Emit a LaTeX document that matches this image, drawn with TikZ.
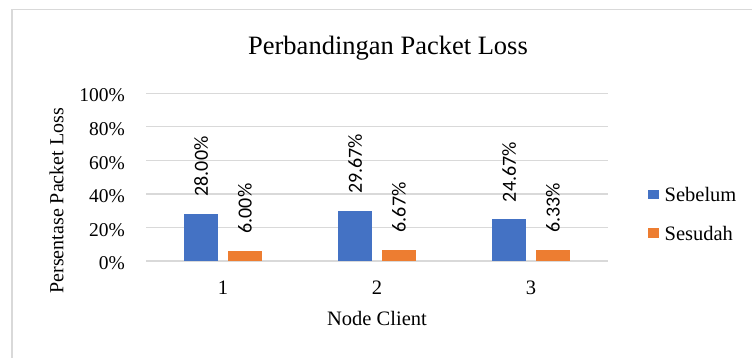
\documentclass[tikz,border=0pt]{standalone}
\usepackage{fontspec}
\setmainfont{Liberation Serif}
\newfontfamily\labelfont{Carlito}
\usepackage{xcolor}
\definecolor{chartBlue}{HTML}{4472C4}
\definecolor{chartOrange}{HTML}{ED7D31}
\definecolor{chartGrid}{HTML}{D9D9D9}
\usepackage{tikz}
\usetikzlibrary{positioning}
\tikzset{
  framerule/.style={draw=chartGrid,line width=1.3pt},
  gridline/.style={draw=chartGrid,line width=1.3pt},
  barblue/.style={rectangle,fill=chartBlue,inner sep=0pt,minimum width=34.3pt,anchor=south},
  barorange/.style={rectangle,fill=chartOrange,inner sep=0pt,minimum width=34.3pt,anchor=south},
  valuelabel/.style={rotate=90,anchor=west,inner sep=0pt,font=\labelfont\fontsize{20}{20}\selectfont},
  ticklabel/.style={anchor=base east,inner sep=0pt,font=\fontsize{19.5}{19.5}\selectfont},
  catlabel/.style={anchor=base,inner sep=0pt,font=\fontsize{20.5}{20.5}\selectfont},
  legendkey/.style={rectangle,inner sep=0pt,minimum width=10.7pt,minimum height=9.6pt},
  legendtext/.style={inner sep=0pt,font=\fontsize{20.5}{20.5}\selectfont},
}

\begin{document}
\begin{tikzpicture}[x=1pt,y=1pt]
  \useasboundingbox (0,0) rectangle (752,358);
  \draw[framerule] (12,0) -- (12,348.5) -- (752,348.5);
  \node[anchor=base, inner sep=0pt, font=\fontsize{26.5}{26.5}\selectfont] (title) at (388,303) {Perbandingan Packet Loss};
  \draw[gridline] (146,97.00) -- (608,97.00);
  \draw[gridline] (146,130.55) -- (608,130.55);
  \draw[gridline] (146,164.10) -- (608,164.10);
  \draw[gridline] (146,197.65) -- (608,197.65);
  \draw[gridline] (146,231.20) -- (608,231.20);
  \draw[gridline] (146,264.75) -- (608,264.75);
  \node[ticklabel] (T0) at (125,88.3) {0\%};
  \node[ticklabel] (T20) at (125,121.85) {20\%};
  \node[ticklabel] (T40) at (125,155.4) {40\%};
  \node[ticklabel] (T60) at (125,188.95) {60\%};
  \node[ticklabel] (T80) at (125,222.5) {80\%};
  \node[ticklabel] (T100) at (125,256.05) {100\%};
  \node[rotate=90, anchor=base, inner sep=0pt, font=\fontsize{20}{20}\selectfont] (ylab) at (63.3,157.3) {Persentase Packet Loss};
  \node[barblue, minimum height=46.97pt] (B1) at (201.1,97) {};
  \node[barorange, minimum height=10.07pt] (S1) at (244.9,97) {};
  \node[barblue, minimum height=49.77pt] (B2) at (355.1,97) {};
  \node[barorange, minimum height=11.19pt] (S2) at (398.9,97) {};
  \node[barblue, minimum height=41.38pt] (B3) at (509.1,97) {};
  \node[barorange, minimum height=10.62pt] (S3) at (552.9,97) {};
  \node[valuelabel] (V1) at ([yshift=17pt]B1.north) {28.00\%};
  \node[valuelabel] (W1) at ([yshift=17pt]S1.north) {6.00\%};
  \node[valuelabel] (V2) at ([yshift=17pt]B2.north) {29.67\%};
  \node[valuelabel] (W2) at ([yshift=17pt]S2.north) {6.67\%};
  \node[valuelabel] (V3) at ([yshift=17pt]B3.north) {24.67\%};
  \node[valuelabel] (W3) at ([yshift=17pt]S3.north) {6.33\%};
  \node[catlabel] (C1) at (223,63) {1};
  \node[catlabel] (C2) at (377,63) {2};
  \node[catlabel] (C3) at (531,63) {3};
  \node[catlabel] (xlab) at (377,32) {Node Client};
  \node[legendkey, fill=chartBlue] (K1) at (653.6,163.3) {};
  \node[legendtext, right=5.3pt of K1] (L1) {Sebelum};
  \node[legendkey, fill=chartOrange] (K2) at (653.6,124.7) {};
  \node[legendtext, right=5.3pt of K2] (L2) {Sesudah};
\end{tikzpicture}
\end{document}
